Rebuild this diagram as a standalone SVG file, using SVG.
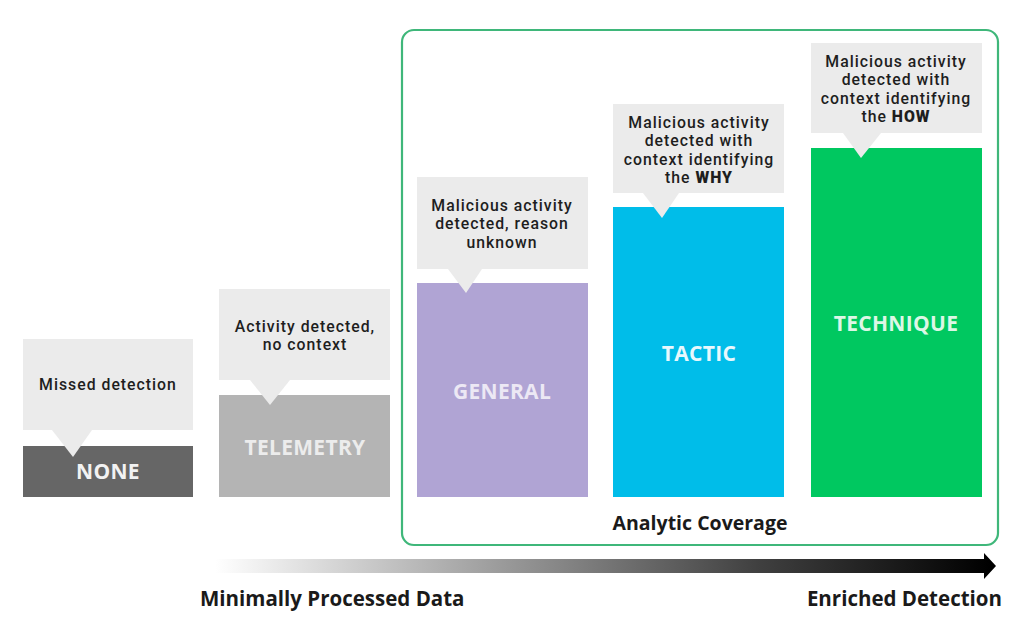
<svg xmlns="http://www.w3.org/2000/svg" width="1024" height="635" viewBox="0 0 1024 635">
<defs>
<linearGradient id="arrowGrad" x1="215" y1="0" x2="990" y2="0" gradientUnits="userSpaceOnUse">
<stop offset="0" stop-color="#ffffff"/>
<stop offset="0.35" stop-color="#a0a0a0"/>
<stop offset="0.7" stop-color="#404040"/>
<stop offset="1" stop-color="#000000"/>
</linearGradient>
<style>
.callout{fill:#ebebeb}
.ct{font-family:Roboto,"Liberation Sans",sans-serif;font-size:15.8px;font-weight:500;letter-spacing:1px;fill:#1e1e1e;text-anchor:middle}
.ct tspan.b{font-weight:900}
.lbl{font-family:"Open Sans","Liberation Sans",sans-serif;font-size:21px;font-weight:700;letter-spacing:0.3px;text-anchor:middle}
.cap{font-family:"Open Sans","Liberation Sans",sans-serif;font-size:20.5px;font-weight:700;fill:#1a1a1a}
.cov{font-size:19.5px;text-anchor:middle}
</style>
</defs>
<rect width="1024" height="635" fill="#ffffff"/>

<g id="frame">
<rect x="402" y="30" width="596" height="515" rx="12" ry="12" fill="none" stroke="#3fb77a" stroke-width="2.2"/>
<text class="cap cov" x="700" y="530">Analytic Coverage</text>
</g>

<g id="none">
<rect x="23" y="446" width="170" height="51" fill="#666666"/>
<rect class="callout" x="23" y="339" width="170" height="91"/>
<polygon class="callout" points="52,430 92,430 73,457"/>
<text class="ct" x="108" y="390">Missed detection</text>
<text class="lbl" x="108" y="479" fill="#f2f2f2">NONE</text>
</g>

<g id="telemetry">
<rect x="219" y="395" width="171" height="102" fill="#b4b4b4"/>
<rect class="callout" x="219" y="289" width="171" height="91"/>
<polygon class="callout" points="250,380 290,380 270,405"/>
<text class="ct" x="305" y="332">Activity detected,</text>
<text class="ct" x="305" y="350">no context</text>
<text class="lbl" x="305" y="455" fill="#ececec">TELEMETRY</text>
</g>

<g id="general">
<rect x="417" y="283" width="171" height="214" fill="#b0a4d4"/>
<rect class="callout" x="417" y="177" width="171" height="92"/>
<polygon class="callout" points="448,269 482,269 466,293"/>
<text class="ct" x="502" y="211">Malicious activity</text>
<text class="ct" x="502" y="229">detected, reason</text>
<text class="ct" x="502" y="248">unknown</text>
<text class="lbl" x="502" y="399" fill="#ece8f4">GENERAL</text>
</g>

<g id="tactic">
<rect x="613" y="207" width="171" height="290" fill="#00bde9"/>
<rect class="callout" x="613" y="104" width="171" height="89"/>
<polygon class="callout" points="643,193 679,193 662,218"/>
<text class="ct" x="699" y="128">Malicious activity</text>
<text class="ct" x="699" y="146">detected with</text>
<text class="ct" x="699" y="165">context identifying</text>
<text class="ct" x="699" y="183">the <tspan class="b">WHY</tspan></text>
<text class="lbl" x="699" y="361" fill="#e8f8fd">TACTIC</text>
</g>

<g id="technique">
<rect x="811" y="148" width="171" height="349" fill="#00c860"/>
<rect class="callout" x="811" y="43" width="171" height="90"/>
<polygon class="callout" points="843,133 881,133 861,158"/>
<text class="ct" x="896" y="67">Malicious activity</text>
<text class="ct" x="896" y="85">detected with</text>
<text class="ct" x="896" y="104">context identifying</text>
<text class="ct" x="896" y="122">the <tspan class="b">HOW</tspan></text>
<text class="lbl" x="896" y="331" fill="#dcf7e6">TECHNIQUE</text>
</g>

<g id="connectors">
<path d="M215,559 L984,559 L984,553 L996,566 L984,579 L984,573 L215,573 Z" fill="url(#arrowGrad)"/>
</g>

<g id="axis-labels">
<text class="cap" x="200" y="606">Minimally Processed Data</text>
<text class="cap" x="1002" y="606" text-anchor="end">Enriched Detection</text>
</g>
</svg>
